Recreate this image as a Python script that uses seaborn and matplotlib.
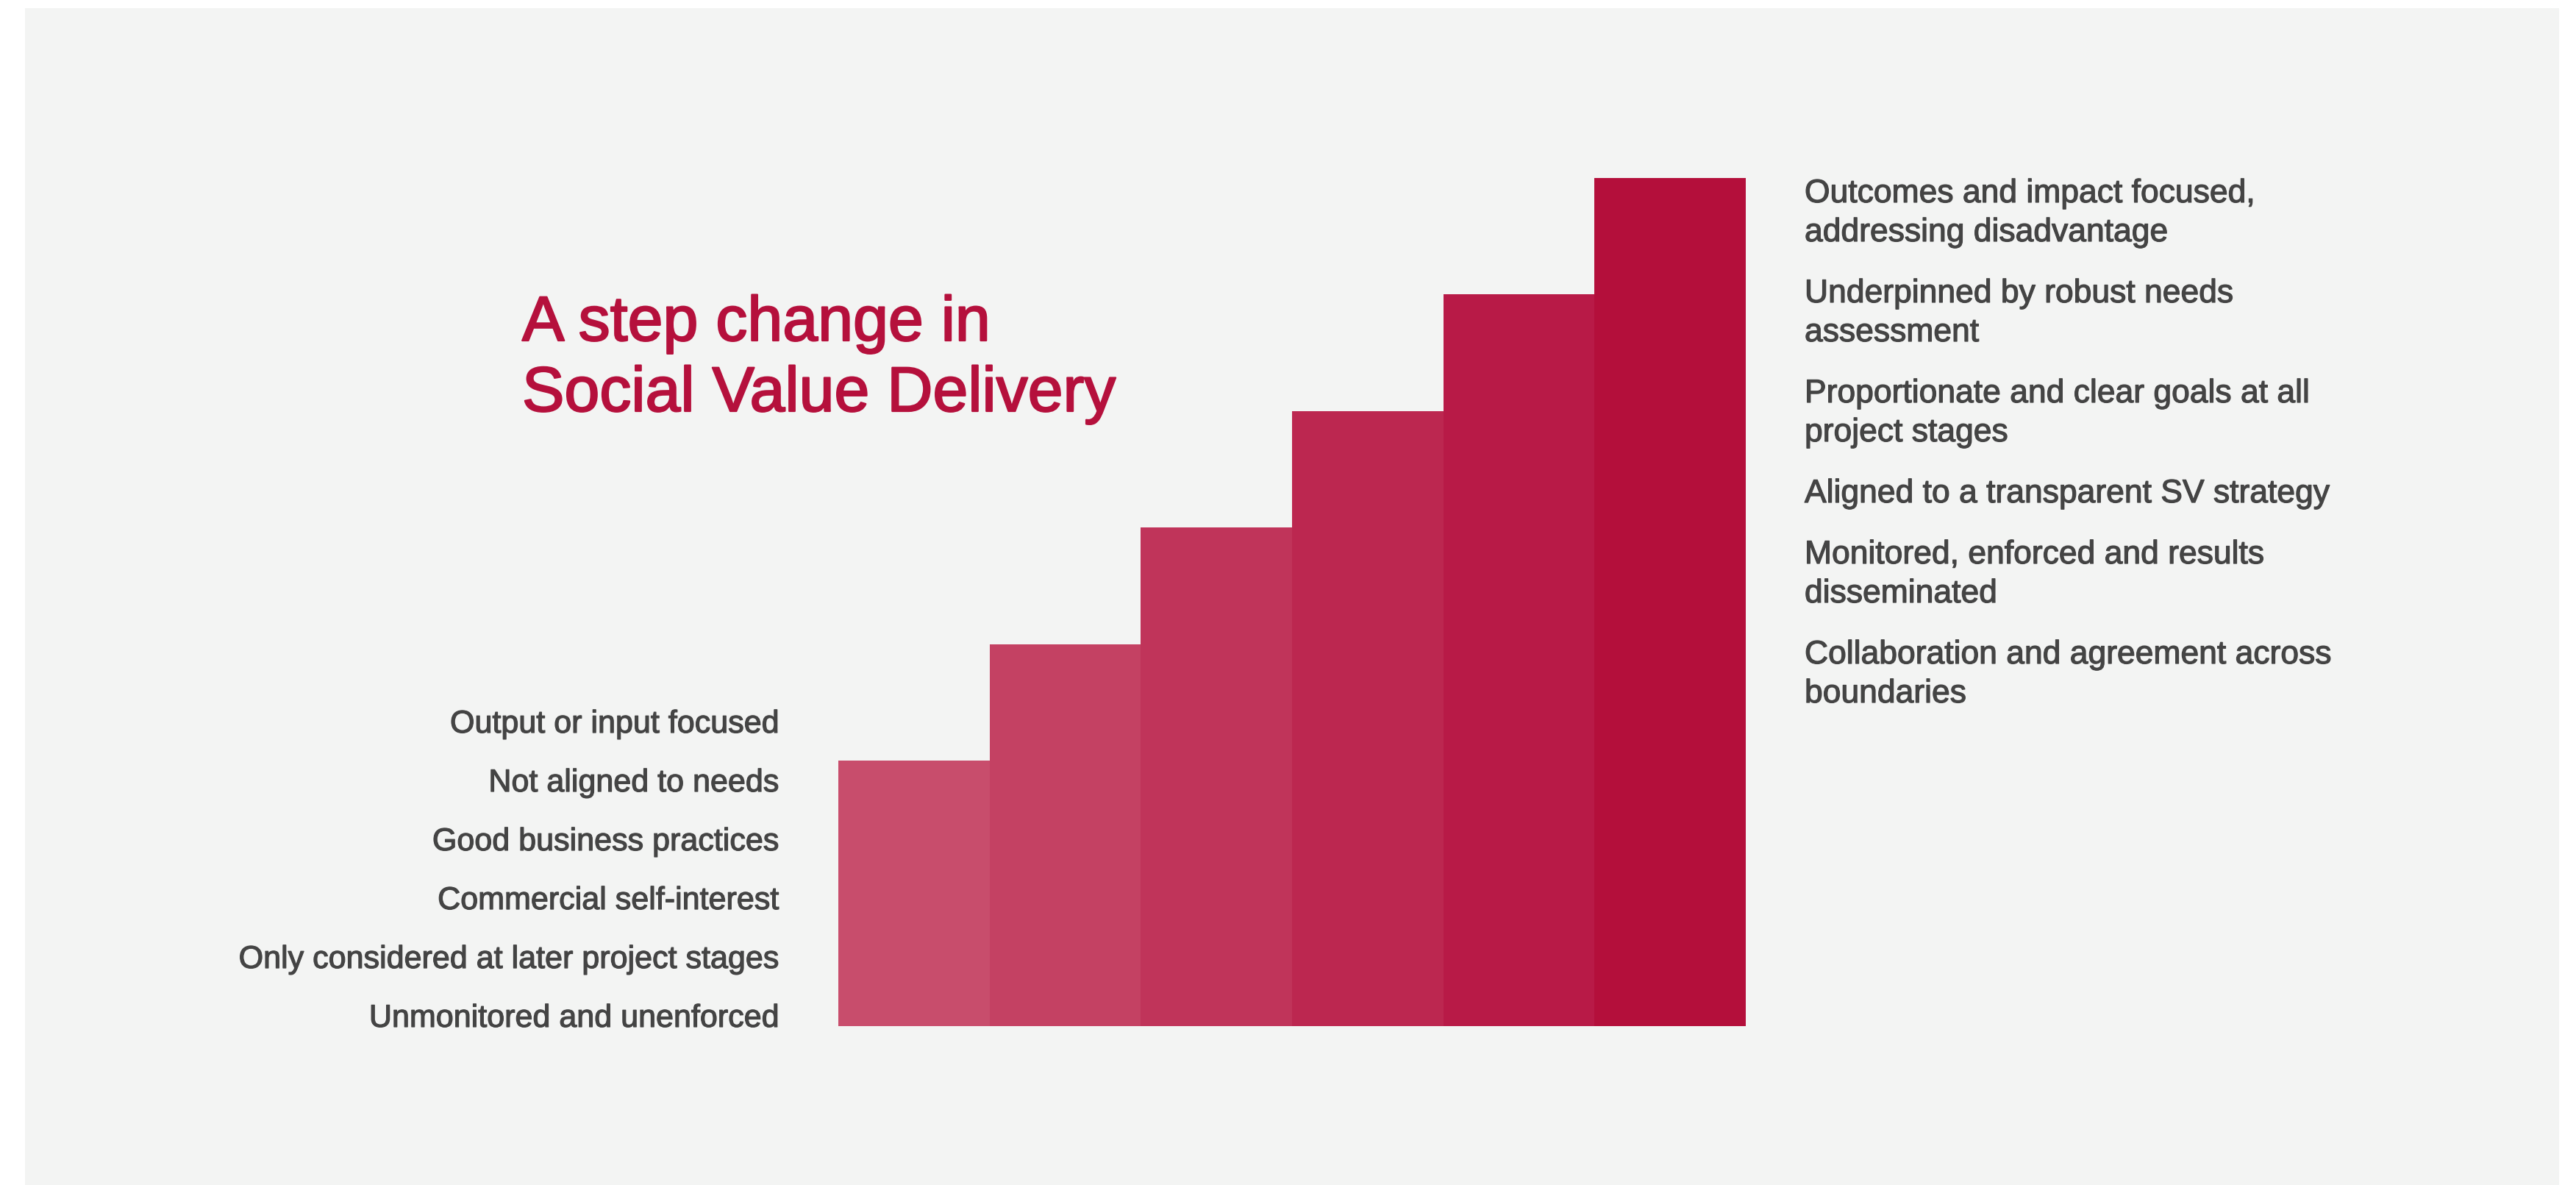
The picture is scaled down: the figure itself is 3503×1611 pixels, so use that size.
import matplotlib
matplotlib.use("Agg")
import matplotlib.pyplot as plt
import matplotlib.patheffects as pe
import seaborn as sns
import pandas as pd
from matplotlib.patches import Rectangle

# ---- data ----
stages = ["Stage 1", "Stage 2", "Stage 3", "Stage 4", "Stage 5", "Stage 6"]
values = [2.28, 3.28, 4.28, 5.28, 6.28, 7.28]
bar_colors = ["#c84d6c", "#c44163", "#c0345a", "#bc2750", "#b81a47", "#b40f3b"]
title_lines = ["A step change in", "Social Value Delivery"]
left_labels = [
    "Output or input focused",
    "Not aligned to needs",
    "Good business practices",
    "Commercial self-interest",
    "Only considered at later project stages",
    "Unmonitored and unenforced",
]
right_labels = [
    "Outcomes and impact focused,\naddressing disadvantage",
    "Underpinned by robust needs\nassessment",
    "Proportionate and clear goals at all\nproject stages",
    "Aligned to a transparent SV strategy",
    "Monitored, enforced and results\ndisseminated",
    "Collaboration and agreement across\nboundaries",
]

W, H = 3503, 1611
DPI = 100
sns.set_theme(style="white")
plt.rcParams["font.family"] = ["Liberation Sans", "DejaVu Sans"]

fig = plt.figure(figsize=(W / DPI, H / DPI), dpi=DPI, facecolor="white")

def fx(px):
    return px / W

def fy(py):
    return 1 - py / H

# background panel
fig.patches.append(Rectangle((fx(34), 0), fx(3480) - fx(34), fy(11), transform=fig.transFigure,
                             facecolor="#f3f4f3", edgecolor="none", zorder=-5))

# bars
bar_left, bar_right, bar_bottom, bar_top = 1140, 2374, 1395, 242
ax = fig.add_axes([fx(bar_left), fy(bar_bottom), fx(bar_right) - fx(bar_left),
                   (bar_bottom - bar_top) / H])
ax.set_zorder(2)
df = pd.DataFrame({"stage": stages, "value": values})
sns.barplot(data=df, x="stage", y="value", hue="stage", palette=bar_colors, width=1.0,
            saturation=1, linewidth=0, legend=False, ax=ax)
ax.set_xlim(-0.5, len(stages) - 0.5)
ax.set_ylim(0, max(values))
ax.axis("off")
ax.patch.set_alpha(0)

# title
title_color = "#b5103c"
for i, line in enumerate(title_lines):
    fig.text(fx(710), fy(463 + 96 * i), line, fontsize=62, color=title_color,
             ha="left", va="baseline", zorder=3,
             path_effects=[pe.withStroke(linewidth=1.6, foreground=title_color)])

text_color = "#444444"
body_fx = [pe.withStroke(linewidth=0.9, foreground=text_color)]
# left labels
for i, lab in enumerate(left_labels):
    fig.text(fx(1059), fy(996 + 80 * i), lab, fontsize=31, color=text_color,
             ha="right", va="baseline", zorder=3, path_effects=body_fx)

# right labels
y = 275
for lab in right_labels:
    lines = lab.split("\n")
    for j, line in enumerate(lines):
        fig.text(fx(2454), fy(y + 53 * j), line, fontsize=32, color=text_color,
                 ha="left", va="baseline", zorder=3, path_effects=body_fx)
    y += 53 * (len(lines) - 1) + 83

fig.savefig("out.png", dpi=DPI, facecolor="white")
